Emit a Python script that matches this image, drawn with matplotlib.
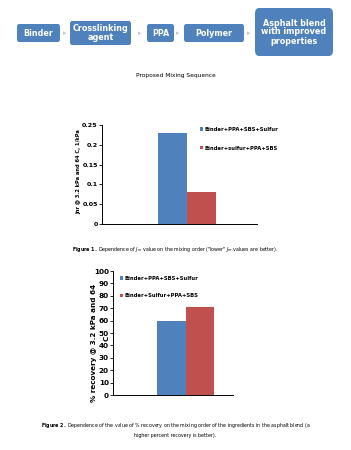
import matplotlib
matplotlib.use("Agg")
import matplotlib.pyplot as plt
from matplotlib.patches import FancyBboxPatch

W, H = 351, 450

steps = ["Binder", "Crosslinking\nagent", "PPA", "Polymer", "Asphalt blend\nwith improved\nproperties"]
jnr_labels = ["Binder+PPA+SBS+Sulfur", "Binder+sulfur+PPA+SBS"]
jnr_values = [0.23, 0.08]
rec_labels = ["Binder+PPA+SBS+Sulfur", "Binder+Sulfur+PPA+SBS"]
rec_values = [60, 71]

blue = "#4f81bd"
red = "#c0504d"

fig = plt.figure(figsize=(W / 100, H / 100), dpi=100)
fig.patch.set_facecolor("white")


def fx(px):
    return px / W


def fy(py):
    return 1 - py / H


# flow diagram (pixel boxes: x0, x1, y0, y1)
boxes = [(17, 60, 24, 42), (70, 131, 21, 45), (147, 174, 24, 42), (184, 244, 24, 42), (255, 333, 8, 56)]
for (x0, x1, y0, y1), s in zip(boxes, steps):
    r = 0.012 if y1 - y0 > 30 else 0.006
    fig.patches.append(FancyBboxPatch((fx(x0), fy(y1)), fx(x1 - x0), (y1 - y0) / H,
                                      boxstyle=f"round,pad=0,rounding_size={r}",
                                      transform=fig.transFigure, facecolor=blue,
                                      edgecolor="none"))
    fig.text(fx((x0 + x1) / 2), fy((y0 + y1) / 2), s, ha="center", va="center",
             color="white", fontsize=5.8, fontweight="bold", linespacing=1.0)
for xa in [65, 140, 178, 249]:
    fig.text(fx(xa), fy(33), "\u25b8", ha="center", va="center", color="#c8c8c8", fontsize=5)

fig.text(0.5, fy(75), "Proposed Mixing Sequence", ha="center", va="center", fontsize=4.2)

# chart 1
ax1 = fig.add_axes([fx(102), fy(224), fx(257 - 102), (224 - 125) / H])
xpos = [0.0, 1.0]
for x, v, c, lab in zip(xpos, jnr_values, [blue, red], jnr_labels):
    ax1.bar(x, v, width=1.0, color=c, label=lab)
ax1.set_xlim(-2.45, 2.9)
ax1.set_ylim(0, 0.25)
ax1.set_yticks([0, 0.05, 0.1, 0.15, 0.2, 0.25])
ax1.set_yticklabels(["0", "0.05", "0.1", "0.15", "0.2", "0.25"])
ax1.set_xticks([])
for sp in ["top", "right"]:
    ax1.spines[sp].set_visible(False)
ax1.tick_params(axis="y", labelsize=4.6, length=2, width=0.6, pad=1)
for lbl in ax1.get_yticklabels():
    lbl.set_fontweight("bold")
ax1.spines["left"].set_linewidth(0.7)
ax1.spines["bottom"].set_linewidth(0.7)
fig.text(fx(79), fy(172), "Jnr @ 3.2 kPa and 64 C, 1/kPa", rotation=90, ha="center", va="center",
         fontsize=3.7, fontweight="bold")
ax1.legend(loc="upper left", bbox_to_anchor=(0.6, 1.03), frameon=False,
           handlelength=0.6, handleheight=0.6, handletextpad=0.3, labelspacing=2.6,
           prop={"size": 3.8, "weight": "bold"})

cap1 = r'$\bf{Figure\ 1.}$ Dependence of $J_{nr}$ value on the mixing order ("lower" $J_{nr}$ values are better).'
fig.text(0.5, fy(249), cap1, ha="center", va="center", fontsize=3.4)

# chart 2
ax2 = fig.add_axes([fx(113), fy(395), fx(233 - 113), (395 - 271) / H])
for x, v, c, lab in zip(xpos, rec_values, [blue, red], rec_labels):
    ax2.bar(x, v, width=1.0, color=c, label=lab)
ax2.set_xlim(-2.05, 2.15)
ax2.set_ylim(0, 100)
ax2.set_yticks(range(0, 101, 10))
ax2.set_xticks([])
for sp in ["top", "right"]:
    ax2.spines[sp].set_visible(False)
ax2.tick_params(axis="y", labelsize=5.2, length=2, width=0.6, pad=1)
for lbl in ax2.get_yticklabels():
    lbl.set_fontweight("bold")
ax2.spines["left"].set_linewidth(0.7)
ax2.spines["bottom"].set_linewidth(0.7)
fig.text(fx(94), fy(343), "% recovery @ 3.2 kPa and 64", rotation=90, ha="center", va="center",
         fontsize=5.2, fontweight="bold")
fig.text(fx(107), fy(338), "C", rotation=90, ha="center", va="center",
         fontsize=5.2, fontweight="bold")
ax2.legend(loc="upper left", bbox_to_anchor=(0.02, 1.0), frameon=False,
           handlelength=0.6, handleheight=0.6, handletextpad=0.3, labelspacing=2.4,
           prop={"size": 3.8, "weight": "bold"})

cap2 = r'$\bf{Figure\ 2.}$ Dependence of the value of % recovery on the mixing order of the ingredients in the asphalt blend (a'
fig.text(0.5, fy(426), cap2, ha="center", va="center", fontsize=3.4)
fig.text(0.5, fy(436), "higher percent recovery is better).", ha="center", va="center", fontsize=3.4)

fig.savefig("out.png", dpi=100)
